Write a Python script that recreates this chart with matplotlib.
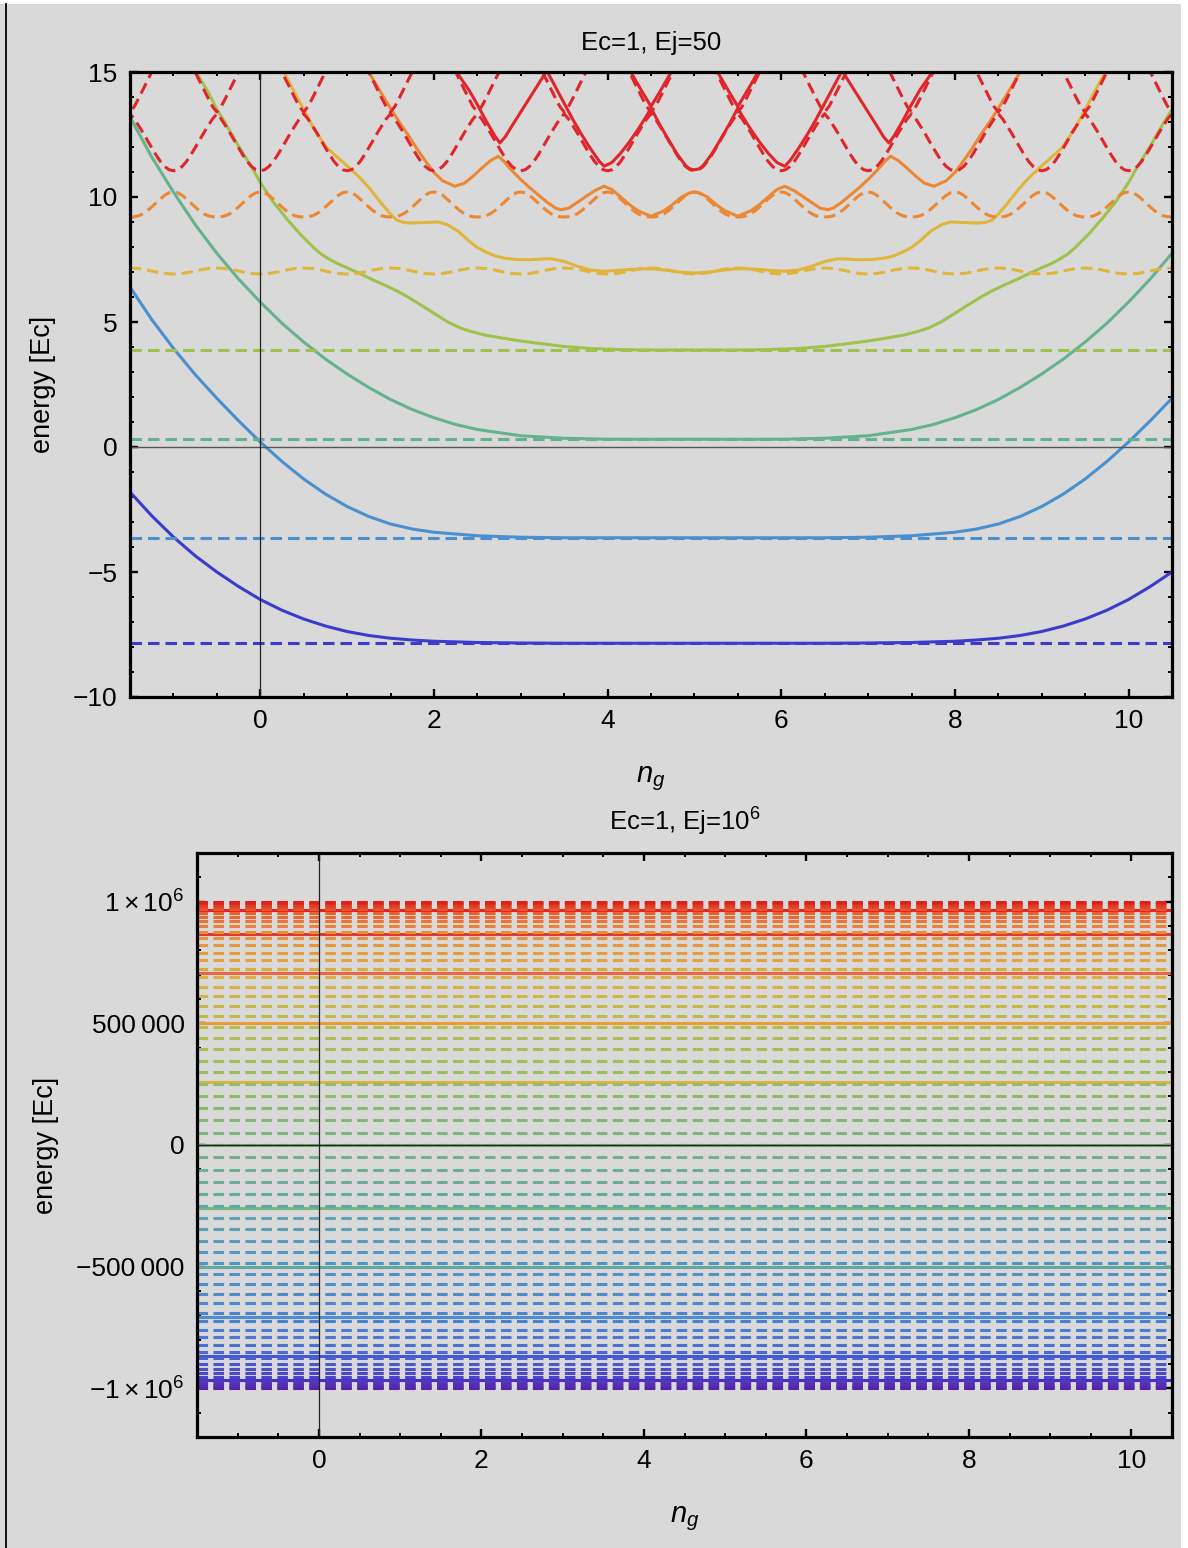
import numpy as np
import matplotlib.pyplot as plt
from matplotlib.colors import LinearSegmentedColormap
from matplotlib.ticker import MultipleLocator, FixedLocator, FixedFormatter
from matplotlib.patches import Rectangle
from matplotlib.lines import Line2D

plt.rcParams['font.family'] = ['Liberation Sans', 'DejaVu Sans']
plt.rcParams['mathtext.fontset'] = 'custom'
plt.rcParams['mathtext.rm'] = 'Liberation Sans'
plt.rcParams['mathtext.it'] = 'Liberation Sans:italic'
plt.rcParams['lines.scale_dashes'] = False

NG_RANGE = [-1.5, 10.5]

# ---------------- top panel: Ec=1, Ej=50 ----------------
# flat dashed levels (exact transmon, no visible charge dispersion)
flat_levels = [-7.85, -3.63, 0.31, 3.88]

# one period of the dispersive dashed levels, offset from an integer ng
period_d = [-0.5, -0.45, -0.4, -0.35, -0.3, -0.25, -0.2, -0.15, -0.1, -0.05,
            0.0, 0.05, 0.1, 0.15, 0.2, 0.25, 0.3, 0.35, 0.4, 0.45]
dash_l4 = [7.16, 7.15, 7.14, 7.11, 7.08, 7.04, 7.00, 6.97, 6.94, 6.93,
           6.92, 6.93, 6.94, 6.97, 7.00, 7.04, 7.08, 7.11, 7.14, 7.15]
dash_l5 = [9.20, 9.21, 9.25, 9.33, 9.45, 9.60, 9.76, 9.92, 10.07, 10.17,
           10.20, 10.17, 10.07, 9.92, 9.76, 9.60, 9.45, 9.33, 9.25, 9.21]
dash_l6 = [13.33, 13.12, 12.85, 12.57, 12.27, 11.97, 11.68, 11.42, 11.22, 11.09,
           11.05, 11.09, 11.22, 11.42, 11.68, 11.97, 12.27, 12.57, 12.85, 13.12]
dash_l7 = [13.40, 13.62, 13.95, 14.30, 14.65, 15.00, 15.35, 15.70, 16.00, 16.20,
           16.30, 16.20, 16.00, 15.70, 15.35, 15.00, 14.65, 14.30, 13.95, 13.62]

# solid levels (truncated charge basis), (ng, energy)
solid_l0 = [(-1.5, -1.8), (-1.25, -2.75), (-1, -3.6), (-0.75, -4.35), (-0.5, -5.0),
            (-0.25, -5.58), (0, -6.1), (0.25, -6.53), (0.5, -6.88), (0.75, -7.16),
            (1, -7.38), (1.25, -7.54), (1.5, -7.65), (1.75, -7.72), (2, -7.77),
            (2.5, -7.82), (3, -7.84), (3.5, -7.85), (6.5, -7.85), (7, -7.84),
            (7.5, -7.82), (8, -7.77), (8.25, -7.72), (8.5, -7.65), (8.75, -7.54),
            (9, -7.38), (9.25, -7.16), (9.5, -6.88), (9.75, -6.53), (10, -6.1),
            (10.25, -5.58), (10.5, -5.0)]
solid_l1 = [(-1.5, 6.4), (-1.25, 5.1), (-1, 3.95), (-0.75, 2.9), (-0.5, 1.95),
            (-0.25, 1.05), (0, 0.2), (0.25, -0.58), (0.5, -1.28), (0.75, -1.88),
            (1, -2.38), (1.25, -2.78), (1.5, -3.08), (1.75, -3.28), (2, -3.41),
            (2.5, -3.55), (3, -3.61), (3.5, -3.63), (6.5, -3.63), (7, -3.61),
            (7.5, -3.55), (8, -3.41), (8.25, -3.28), (8.5, -3.08), (8.75, -2.78),
            (9, -2.38), (9.25, -1.88), (9.5, -1.28), (9.75, -0.58), (10, 0.2),
            (10.25, 1.05), (10.5, 1.95)]
solid_l2 = [(-1.5, 13.2), (-1.25, 11.6), (-1, 10.2), (-0.75, 8.9), (-0.5, 7.75),
            (-0.25, 6.72), (0, 5.8), (0.25, 4.95), (0.5, 4.2), (0.75, 3.52),
            (1, 2.92), (1.25, 2.38), (1.5, 1.9), (1.75, 1.5), (2, 1.17),
            (2.25, 0.9), (2.5, 0.7), (3, 0.45), (3.5, 0.35), (4, 0.31),
            (6, 0.31), (6.5, 0.35), (7, 0.45), (7.5, 0.7), (7.75, 0.9),
            (8, 1.17), (8.25, 1.5), (8.5, 1.9), (8.75, 2.38), (9, 2.92),
            (9.25, 3.52), (9.5, 4.2), (9.75, 4.95), (10, 5.8), (10.25, 6.72),
            (10.5, 7.75)]
solid_l3 = [(-0.8, 15.35), (-0.74, 15.0), (-0.6, 14.2), (-0.5, 13.5), (-0.4, 12.95),
            (-0.26, 12.09), (-0.1, 11.2), (0, 10.58), (0.15, 9.8), (0.3, 9.15),
            (0.45, 8.55), (0.62, 7.96), (0.7, 7.72), (0.8, 7.5), (0.9, 7.32),
            (1, 7.17), (1.15, 6.93), (1.3, 6.68), (1.45, 6.45), (1.57, 6.25),
            (1.7, 6.0), (1.85, 5.68), (2, 5.35), (2.15, 5.02), (2.31, 4.75),
            (2.45, 4.6), (2.6, 4.47), (2.8, 4.35), (3, 4.24), (3.2, 4.15),
            (3.5, 4.02), (3.8, 3.94), (4.2, 3.89), (4.6, 3.88), (5, 3.88),
            (5.4, 3.88), (5.8, 3.89), (6.2, 3.94), (6.5, 4.02), (6.8, 4.15),
            (7, 4.24), (7.2, 4.35), (7.4, 4.47), (7.55, 4.6), (7.69, 4.75),
            (7.85, 5.02), (8, 5.35), (8.15, 5.68), (8.3, 6.0), (8.43, 6.25),
            (8.55, 6.45), (8.7, 6.68), (8.85, 6.93), (9, 7.17), (9.1, 7.32),
            (9.2, 7.5), (9.3, 7.72), (9.38, 7.96), (9.55, 8.55), (9.7, 9.15),
            (9.85, 9.8), (10, 10.58), (10.1, 11.2), (10.26, 12.09), (10.4, 12.95),
            (10.5, 13.5)]
solid_l4 = [(0.2, 15.4), (0.27, 15.0), (0.4, 14.15), (0.5, 13.5), (0.6, 12.85),
            (0.7, 12.3), (0.77, 11.96), (0.9, 11.55), (1, 11.25), (1.15, 10.76),
            (1.27, 10.3), (1.4, 9.72), (1.5, 9.32), (1.57, 9.08), (1.65, 8.98),
            (1.75, 8.96), (1.9, 8.98), (2.05, 9.0), (2.15, 8.9), (2.28, 8.63),
            (2.4, 8.25), (2.5, 7.98), (2.6, 7.8), (2.7, 7.65), (2.8, 7.56),
            (2.95, 7.5), (3.12, 7.49), (3.25, 7.52), (3.35, 7.53), (3.5, 7.42),
            (3.65, 7.23), (3.8, 7.08), (3.96, 7.03), (4.1, 7.06), (4.25, 7.1),
            (4.42, 7.13), (4.55, 7.12), (4.7, 7.06), (4.85, 6.99), (5, 6.96),
            (5.15, 6.99), (5.3, 7.06), (5.45, 7.12), (5.58, 7.13), (5.75, 7.1),
            (5.9, 7.06), (6.04, 7.03), (6.2, 7.08), (6.35, 7.23), (6.5, 7.42),
            (6.65, 7.53), (6.75, 7.52), (6.88, 7.49), (7.05, 7.5), (7.2, 7.56),
            (7.3, 7.65), (7.4, 7.8), (7.5, 7.98), (7.6, 8.25), (7.72, 8.63),
            (7.85, 8.9), (7.95, 9.0), (8.1, 8.98), (8.25, 8.96), (8.35, 8.98),
            (8.43, 9.08), (8.5, 9.32), (8.6, 9.72), (8.73, 10.3), (8.85, 10.76),
            (9, 11.25), (9.1, 11.55), (9.23, 11.96), (9.3, 12.3), (9.4, 12.85),
            (9.5, 13.5), (9.6, 14.15), (9.73, 15.0), (9.8, 15.4)]
solid_l5 = [(1.2, 15.3), (1.25, 15.0), (1.35, 14.4), (1.5, 13.55), (1.6, 13.0),
            (1.7, 12.5), (1.8, 11.95), (1.9, 11.45), (2, 10.98), (2.1, 10.65),
            (2.24, 10.43), (2.35, 10.55), (2.45, 10.83), (2.55, 11.15), (2.65, 11.45),
            (2.74, 11.63), (2.8, 11.45), (2.9, 11.05), (3, 10.7), (3.1, 10.38),
            (3.2, 10.09), (3.3, 9.8), (3.4, 9.56), (3.46, 9.49), (3.55, 9.55),
            (3.65, 9.78), (3.75, 10.02), (3.85, 10.25), (3.96, 10.43), (4.05, 10.3),
            (4.15, 10.0), (4.25, 9.7), (4.35, 9.45), (4.5, 9.23), (4.65, 9.45),
            (4.75, 9.7), (4.85, 10.0), (4.95, 10.17), (5, 10.2), (5.05, 10.17),
            (5.15, 10.0), (5.25, 9.7), (5.35, 9.45), (5.5, 9.23), (5.65, 9.45),
            (5.75, 9.7), (5.85, 10.0), (5.95, 10.3), (6.04, 10.43), (6.15, 10.25),
            (6.25, 10.02), (6.35, 9.78), (6.45, 9.55), (6.54, 9.49), (6.6, 9.56),
            (6.7, 9.8), (6.8, 10.09), (6.9, 10.38), (7, 10.7), (7.1, 11.05),
            (7.2, 11.45), (7.26, 11.63), (7.35, 11.45), (7.45, 11.15), (7.55, 10.83),
            (7.65, 10.55), (7.76, 10.43), (7.9, 10.65), (8, 10.98), (8.1, 11.45),
            (8.2, 11.95), (8.3, 12.5), (8.4, 13.0), (8.5, 13.55), (8.65, 14.4),
            (8.75, 15.0), (8.8, 15.3)]
solid_l6 = [(2.2, 15.35), (2.26, 15.0), (2.4, 14.3), (2.5, 13.7), (2.6, 13.05),
            (2.7, 12.45), (2.76, 12.16), (2.82, 12.4), (2.9, 12.85), (3, 13.4),
            (3.1, 13.95), (3.2, 14.5), (3.3, 15.05), (3.4, 14.4), (3.5, 13.75),
            (3.6, 13.1), (3.7, 12.5), (3.8, 11.95), (3.9, 11.45), (3.96, 11.23),
            (4.05, 11.38), (4.15, 11.75), (4.25, 12.2), (4.35, 12.7), (4.45, 13.25),
            (4.5, 13.56), (4.6, 12.9), (4.7, 12.3), (4.8, 11.72), (4.9, 11.25),
            (4.95, 11.12), (5, 11.09), (5.05, 11.12), (5.1, 11.25), (5.2, 11.72),
            (5.3, 12.3), (5.4, 12.9), (5.5, 13.56), (5.55, 13.25), (5.65, 12.7),
            (5.75, 12.2), (5.85, 11.75), (5.95, 11.38), (6.04, 11.23), (6.1, 11.45),
            (6.2, 11.95), (6.3, 12.5), (6.4, 13.1), (6.5, 13.75), (6.6, 14.4),
            (6.7, 15.05), (6.8, 14.5), (6.9, 13.95), (7, 13.4), (7.1, 12.85),
            (7.18, 12.4), (7.24, 12.16), (7.3, 12.45), (7.4, 13.05), (7.5, 13.7),
            (7.6, 14.3), (7.74, 15.0), (7.8, 15.35)]
solid_l7 = [(4.2, 15.4), (4.3, 14.8), (4.4, 14.2), (4.5, 13.62), (4.6, 14.2),
            (4.7, 14.8), (4.8, 15.4), (5, 16.5), (5.2, 15.4), (5.3, 14.8),
            (5.4, 14.2), (5.5, 13.62), (5.6, 14.2), (5.7, 14.8), (5.8, 15.4)]

top_colors = ['#3b3bcc', '#4a8fd0', '#64b28e', '#9ec24c',
              '#dfb53b', '#ec8833', '#e0262a', '#e0262a']

# ---------------- bottom panel: Ec=1, Ej=1e6 (values in units of 1000) ----------------
bottom_dashed_k = [-999, -995, -988, -980, -968, -954, -938, -919, -898, -874,
                   -849, -821, -791, -759, -725, -689, -651, -612, -571, -529,
                   -485, -440, -394, -347, -299, -251, -201, -151, -101, -51,
                   0, 51, 101, 151, 201, 251, 299, 347, 394, 440,
                   485, 529, 571, 612, 651, 689, 725, 759, 791, 821,
                   849, 874, 898, 919, 938, 954, 968, 980, 988, 995, 999]
bottom_solid_k = [-966, -866, -707, -500, -259, 0, 259, 500, 707, 866, 966]
bottom_solid_colors = ['#4a2ec2', '#4058d6', '#4c8ec8', '#62a8a0', '#78b676', '#90bc68',
                       '#d8b640', '#e89c3a', '#e8683a', '#e03a2c', '#de2626']
rainbow = LinearSegmentedColormap.from_list('rainbow_mma', [
    (0.0, '#5a1ea4'), (0.1, '#4a48cc'), (0.2, '#4a78d8'), (0.35, '#5598c0'),
    (0.45, '#68ae98'), (0.55, '#86ba70'), (0.65, '#b0be50'), (0.75, '#dcb040'),
    (0.85, '#ec8a3a'), (0.93, '#e85a30'), (1.0, '#dc2020')])

BG = '#d9d9d9'
fig = plt.figure(figsize=(11.88, 15.48), dpi=100)
fig.patch.set_facecolor(BG)
fig.add_artist(Rectangle((0, 1 - 4 / 1548), 1, 4 / 1548, transform=fig.transFigure,
                         facecolor='white', edgecolor='none'))
fig.add_artist(Rectangle((1181 / 1188, 0), 7 / 1188, 1, transform=fig.transFigure,
                         facecolor='white', edgecolor='none'))
fig.add_artist(Line2D([6 / 1188, 6 / 1188], [0, 1 - 4 / 1548], transform=fig.transFigure,
                      color='black', lw=1.3))

ax1 = fig.add_axes([130 / 1188, 1 - 697 / 1548, 1042 / 1188, 625 / 1548])
ax2 = fig.add_axes([197 / 1188, 1 - 1437 / 1548, 975 / 1188, 584 / 1548])


def style(ax):
    ax.set_facecolor(BG)
    for s in ax.spines.values():
        s.set_linewidth(2.3)
        s.set_color('black')
        s.set_zorder(10)
    ax.tick_params(which='both', direction='in', top=True, right=True, labelsize=19)
    ax.tick_params(which='major', length=6, width=1.7, pad=9)
    ax.tick_params(which='minor', length=3.2, width=1.4)
    ax.set_xlim(NG_RANGE)
    ax.xaxis.set_major_locator(MultipleLocator(2))
    ax.xaxis.set_minor_locator(MultipleLocator(0.5))
    ax.set_ylabel('energy [Ec]', fontsize=19.5, labelpad=12)
    ax.set_xlabel(r'$n_g$', fontsize=21, labelpad=22)


LW = 2.2
TOP_DASH = (8.3, 4.3)
BOT_DASH = (7.6, 3.9)

# top panel
style(ax1)
solids = [solid_l0, solid_l1, solid_l2, solid_l3, solid_l4, solid_l5, solid_l6, solid_l7]
for i, pts in enumerate(solids):
    ng, e = zip(*pts)
    ax1.plot(ng, e, color=top_colors[i], lw=LW, solid_joinstyle='round', zorder=2)

for i, v in enumerate(flat_levels):
    ax1.plot(NG_RANGE, [v, v], color=top_colors[i], lw=LW, dashes=TOP_DASH, zorder=3)

ks = range(-2, 12)
ng_tiled = np.concatenate([k + np.array(period_d) for k in ks])
for lvl, vals in zip([4, 5, 6, 7], [dash_l4, dash_l5, dash_l6, dash_l7]):
    ax1.plot(ng_tiled, np.tile(vals, len(ks)), color=top_colors[lvl], lw=LW,
             dashes=TOP_DASH, zorder=3)

ax1.axhline(0, color='#555555', lw=1.0, zorder=5)
ax1.axvline(0, color='#222222', lw=0.9, zorder=5)
ax1.set_ylim(-10, 15)
ax1.yaxis.set_major_locator(MultipleLocator(5))
ax1.yaxis.set_minor_locator(MultipleLocator(1))
ax1.set_title('Ec=1, Ej=50', fontsize=18.5, pad=16)

# bottom panel
style(ax2)
for v, c in zip(bottom_solid_k, bottom_solid_colors):
    ax2.plot(NG_RANGE, [v * 1e3, v * 1e3], color=c, lw=LW, zorder=2)
n = len(bottom_dashed_k)
for i, v in enumerate(bottom_dashed_k):
    ax2.plot(NG_RANGE, [v * 1e3, v * 1e3], color=rainbow(i / (n - 1)), lw=LW,
             dashes=BOT_DASH, zorder=3)
ax2.axhline(0, color='#222222', lw=1.0, zorder=5)
ax2.axvline(0, color='#222222', lw=0.9, zorder=5)
ax2.set_ylim(-1.2e6, 1.2e6)
ax2.yaxis.set_major_locator(FixedLocator([-1e6, -5e5, 0, 5e5, 1e6]))
ax2.yaxis.set_major_formatter(FixedFormatter(
    [r'$-1\times10^{6}$', '\u2212500\u2009000', '0', '500\u2009000', r'$1\times10^{6}$']))
ax2.yaxis.set_minor_locator(MultipleLocator(1e5))
ax2.set_title(r'Ec=1, Ej=$10^{6}$', fontsize=18.5, pad=16)

fig.savefig('out.png', dpi=100, facecolor=fig.get_facecolor())
